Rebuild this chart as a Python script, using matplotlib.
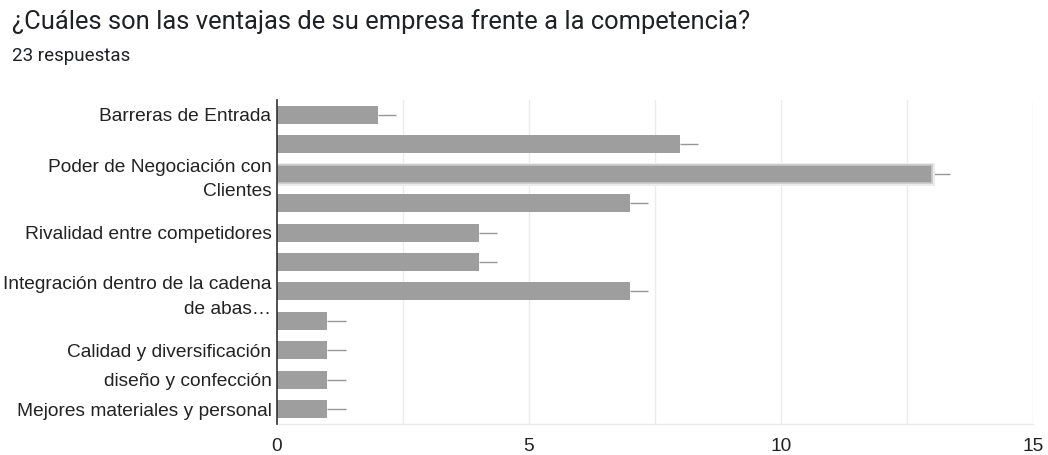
import matplotlib
matplotlib.use("Agg")
import matplotlib.pyplot as plt
import matplotlib.patheffects as pe

title = "¿Cuáles son las ventajas de su empresa frente a la competencia?"
subtitle = "23 respuestas"

categories = [
    "Barreras de Entrada",
    "",
    "Poder de Negociación con\nClientes",
    "",
    "Rivalidad entre competidores",
    "",
    "Integración dentro de la cadena\nde abas…",
    "",
    "Calidad y diversificación",
    "diseño y confección",
    "Mejores materiales y personal",
]
counts = [2, 8, 13, 7, 4, 4, 7, 1, 1, 1, 1]
err_right = [0.36] * len(counts)
highlight_index = 2

xticks = [0, 5, 10, 15]
grid_x = [2.5, 5, 7.5, 10, 12.5, 15]

label_font = ["Liberation Sans", "DejaVu Sans"]

fig = plt.figure(figsize=(10.48, 4.55), dpi=100)
ax = fig.add_axes([277 / 1048, 1 - 424 / 455, (1033 - 277) / 1048, (424 - 100) / 455])

bar_color = "#9e9e9e"
ypos = list(range(len(counts)))
bars = ax.barh(ypos, counts, height=0.61, color=bar_color, zorder=3)
ax.errorbar(counts, ypos, xerr=[[0] * len(counts), err_right], fmt="none",
            ecolor="#969696", elinewidth=1.0, capsize=0, zorder=2)

# hovered bar gets a soft halo
bars[highlight_index].set_edgecolor("#c8c8c8")
bars[highlight_index].set_linewidth(1.2)
bars[highlight_index].set_path_effects([pe.withStroke(linewidth=3.5, foreground="#ececec")])

ax.set_xlim(0, 15)
ax.set_ylim(len(counts) - 0.5, -0.5)
ax.set_xticks(xticks)
ax.set_xticklabels([str(v) for v in xticks], fontsize=13.8, color="#222222",
                   family=label_font)
ax.set_yticks(ypos)
ax.set_yticklabels(categories, fontsize=13.8, color="#222222",
                   family=label_font, linespacing=1.55)
ax.tick_params(axis="both", length=0)
ax.tick_params(axis="x", pad=10)
ax.tick_params(axis="y", pad=4)

for gx in grid_x:
    ax.axvline(gx, color="#ebebeb", linewidth=1.0, zorder=0)

for side in ("top", "right"):
    ax.spines[side].set_visible(False)
ax.spines["bottom"].set_color("#ebebeb")
ax.spines["bottom"].set_linewidth(1.0)
ax.spines["left"].set_color("#333333")
ax.spines["left"].set_linewidth(1.2)
ax.spines["left"].set_zorder(4)

fig.text(12 / 1048, 1 - 22 / 455, title, fontsize=18.4, color="#202124",
         family=["Roboto", "DejaVu Sans"], va="center", ha="left")
fig.text(12 / 1048, 1 - 56 / 455, subtitle, fontsize=13.5, color="#202124",
         family=["Roboto", "DejaVu Sans"], va="center", ha="left")

fig.savefig("out.png", dpi=100)
